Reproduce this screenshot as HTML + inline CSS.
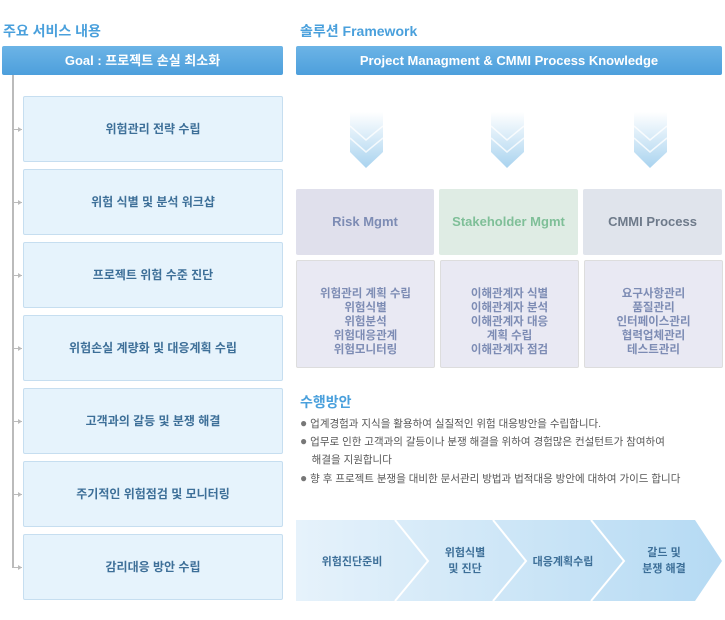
<!DOCTYPE html>
<html><head><meta charset="utf-8"><style>
body{margin:0;width:725px;height:620px;background:#fff;position:relative;font-family:"Liberation Sans","Noto Sans CJK KR",sans-serif;overflow:hidden}
.a{position:absolute}
.t{color:#4aa0dc;font-size:14px;font-weight:bold}
.hd{background:linear-gradient(#6cb4e6,#4d9fdc);color:#fff;font-size:13px;font-weight:bold;text-align:center;line-height:29px;border-radius:2px}
.lb{left:23px;width:258px;height:64px;background:#e6f3fc;border:1px solid #c6def0;border-radius:2px;color:#3d6f98;font-size:12px;font-weight:bold;text-align:center;line-height:64px}
.stub{left:13px;width:9px;height:1px;background:#bbb}
.cat{top:189px;height:66px;line-height:66px;text-align:center;font-size:13px;font-weight:bold;border-radius:2px}
.det{top:260px;height:108px;background:#e9e9f3;border:1px solid #ddd;border-radius:2px;text-align:center;color:#7d8cb4;font-size:11.5px;font-weight:bold;line-height:14px;box-sizing:border-box;padding-top:26px}
.bl{left:300px;font-size:10.5px;color:#555;line-height:18px}
.bl b{color:#777;font-size:12px}
</style></head><body>
<div class="a t" style="left:3px;top:21px">주요 서비스 내용</div>
<div class="a t" style="left:300px;top:21px">솔루션 Framework</div>
<div class="a hd" style="left:2px;top:46px;width:281px;height:29px">Goal : 프로젝트 손실 최소화</div>
<div class="a hd" style="left:296px;top:46px;width:426px;height:29px">Project Managment &amp; CMMI Process Knowledge</div>
<div class="a" style="left:12px;top:75px;width:2px;height:493px;background:#bbb"></div>
<div class="a stub" style="top:129px"></div><div class="a stub" style="top:202px"></div><div class="a stub" style="top:275px"></div><div class="a stub" style="top:348px"></div><div class="a stub" style="top:421px"></div><div class="a stub" style="top:494px"></div><div class="a stub" style="top:567px"></div>
<div class="a lb" style="top:96px">위험관리 전략 수립</div>
<div class="a lb" style="top:169px">위험 식별 및 분석 워크샵</div>
<div class="a lb" style="top:242px">프로젝트 위험 수준 진단</div>
<div class="a lb" style="top:315px">위험손실 계량화 및 대응계획 수립</div>
<div class="a lb" style="top:388px">고객과의 갈등 및 분쟁 해결</div>
<div class="a lb" style="top:461px">주기적인 위험점검 및 모니터링</div>
<div class="a lb" style="top:534px">감리대응 방안 수립</div>
<svg class="a" style="left:0;top:0" width="725" height="620">
<defs><linearGradient id="g" x1="0" y1="0" x2="0" y2="1"><stop offset="0" stop-color="#fff"/><stop offset="1" stop-color="#a9d3ef"/></linearGradient>
<linearGradient id="p" x1="0" y1="0" x2="1" y2="0"><stop offset="0" stop-color="#e6f2fb"/><stop offset="1" stop-color="#b5daf3"/></linearGradient></defs>
<g fill="url(#g)">
<polygon points="350,112 383,112 383,152 366,168 350,152"/>
<polygon points="491,112 524,112 524,152 507,168 491,152"/>
<polygon points="634,112 667,112 667,152 650,168 634,152"/>
</g>
<g stroke="#fff" stroke-width="1.5" fill="none" opacity="0.8">
<polyline points="350,126 366,140 383,126"/><polyline points="350,138 366,152 383,138"/>
<polyline points="491,126 507,140 524,126"/><polyline points="491,138 507,152 524,138"/>
<polyline points="634,126 650,140 667,126"/><polyline points="634,138 650,152 667,138"/>
</g>
<g fill="#bbb"><polygon points="18,127 22,129.5 18,132"/><polygon points="18,200 22,202.5 18,205"/><polygon points="18,273 22,275.5 18,278"/><polygon points="18,346 22,348.5 18,351"/><polygon points="18,419 22,421.5 18,424"/><polygon points="18,492 22,494.5 18,497"/><polygon points="18,565 22,567.5 18,570"/></g>
<polygon points="296,520 695,520 722,561 695,601 296,601" fill="url(#p)"/>
<g stroke="#fff" stroke-width="2" fill="none">
<polyline points="395,520 428,561 395,601"/><polyline points="493,520 526,561 493,601"/><polyline points="591,520 624,561 591,601"/>
</g>
<g font-size="11" font-weight="bold" fill="#3d6f98" text-anchor="middle" font-family="Liberation Sans,Noto Sans CJK KR,sans-serif">
<text x="352" y="565">위험진단준비</text>
<text x="465" y="556">위험식별</text><text x="465" y="572">및 진단</text>
<text x="563" y="565">대응계획수립</text>
<text x="664" y="556">갈드 및</text><text x="664" y="572">분쟁 해결</text>
</g>
</svg>
<div class="a cat" style="left:296px;width:138px;background:#e0e0ec;color:#7d8cb4">Risk Mgmt</div>
<div class="a cat" style="left:439px;width:139px;background:#dfece4;color:#7fbf98">Stakeholder Mgmt</div>
<div class="a cat" style="left:583px;width:139px;background:#e0e4ec;color:#6e7a8a">CMMI Process</div>
<div class="a det" style="left:296px;width:139px">위험관리 계획 수립<br>위험식별<br>위험분석<br>위험대응관계<br>위험모니터링</div>
<div class="a det" style="left:440px;width:139px">이해관계자 식별<br>이해관계자 분석<br>이해관계자 대응<br>계획 수립<br>이해관계자 점검</div>
<div class="a det" style="left:584px;width:139px">요구사항관리<br>품질관리<br>인터페이스관리<br>협력업체관리<br>테스트관리</div>
<div class="a t" style="left:300px;top:392px">수행방안</div>
<div class="a bl" style="top:414px"><b>●</b> 업계경험과 지식을 활용하여 실질적인 위험 대응방안을 수립합니다.</div>
<div class="a bl" style="top:432px"><b>●</b> 업무로 인한 고객과의 갈등이나 분쟁 해결을 위하여 경험많은 컨설턴트가 참여하여<br>&nbsp;&nbsp;&nbsp;&nbsp;해결을 지원합니다</div>
<div class="a bl" style="top:469px"><b>●</b> 향 후 프로젝트 분쟁을 대비한 문서관리 방법과 법적대응 방안에 대하여 가이드 합니다</div>
</body></html>
